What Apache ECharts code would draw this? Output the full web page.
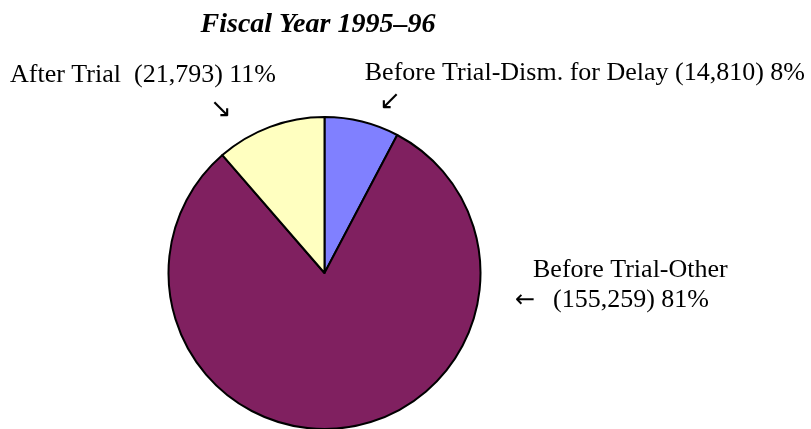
<!DOCTYPE html>
<html>
<head>
<meta charset="utf-8">
<script src="https://cdn.jsdelivr.net/npm/echarts@6/dist/echarts.min.js"></script>
<style>
  html, body { margin: 0; padding: 0; background: #fff; }
  #chart { width: 811px; height: 429px; }
</style>
</head>
<body>
<div id="chart"></div>
<script>
// data, clockwise from 12 o'clock
var names = ['Before Trial-Dism. for Delay', 'Before Trial-Other', 'After Trial'];
var counts = [14810, 155259, 21793];
var percents = [8, 81, 11];
var colors = ['#8080FF', '#802060', '#FFFFC0'];

function fmt(n) {
    return n.toLocaleString('en-US');
}

var serif = '"Liberation Serif", "Times New Roman", serif';
var arrowFont = '"DejaVu Sans", sans-serif';

var pieData = [];
for (var i = 0; i < names.length; i++) {
    pieData.push({ name: names[i], value: counts[i], itemStyle: { color: colors[i] } });
}

// helper for the label texts
function txt(s, x, y, size, align, family) {
    return {
        type: 'text', x: x, y: y,
        style: { text: s, font: size + 'px ' + (family || serif), fill: '#000', align: align || 'left', verticalAlign: 'middle' }
    };
}

var option = {
    animation: false,
    backgroundColor: '#fff',
    title: {
        text: 'Fiscal Year 1995\u201396',
        left: 313,
        top: 6,
        textAlign: 'center',
        textStyle: { fontFamily: serif, fontSize: 28, fontWeight: 'bold', fontStyle: 'italic', color: '#000' }
    },
    series: [{
        type: 'pie',
        center: [324.5, 273],
        radius: 156,
        startAngle: 90,
        clockwise: true,
        label: { show: false },
        labelLine: { show: false },
        itemStyle: { borderColor: '#000', borderWidth: 2 },
        emphasis: { disabled: true },
        data: pieData
    }],
    graphic: [
        // After Trial
        txt(names[2] + '  (' + fmt(counts[2]) + ') ' + percents[2] + '%', 10, 75, 26),
        txt('\u2198', 221, 110, 26, 'center', arrowFont),
        // Before Trial-Dism. for Delay
        txt(names[0] + ' (' + fmt(counts[0]) + ') ' + percents[0] + '%', 805, 73, 26, 'right'),
        txt('\u2199', 390, 102, 26, 'center', arrowFont),
        // Before Trial-Other
        txt(names[1], 533, 270, 26),
        txt('\u2190', 525, 301, 24, 'center', arrowFont),
        txt('(' + fmt(counts[1]) + ') ' + percents[1] + '%', 553, 300, 26)
    ]
};

var chart = echarts.init(document.getElementById('chart'));
chart.setOption(option);
</script>
</body>
</html>
